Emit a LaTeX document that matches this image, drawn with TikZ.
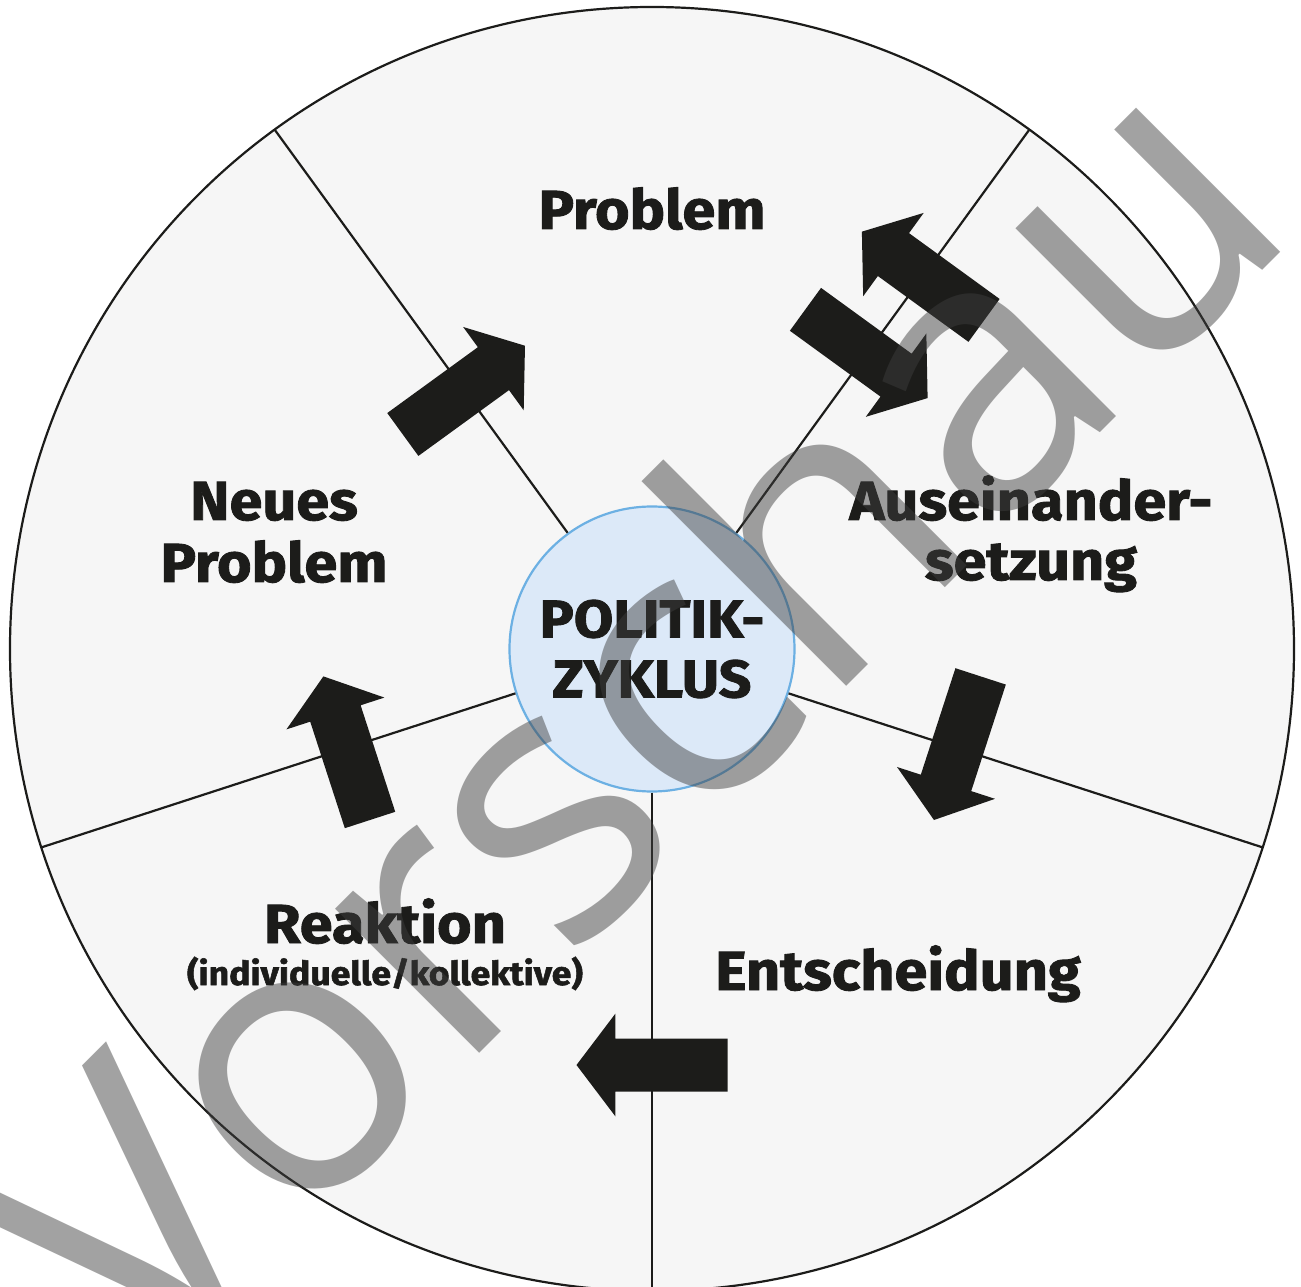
\documentclass[tikz,border=0pt]{standalone}
\usepackage{fontspec}
\setmainfont{Fira Sans}[BoldFeatures={FakeBold=1.6, FakeStretch=1.08}]
\newfontfamily\wmfont{Open Sans}
\definecolor{ink}{HTML}{1C1C1A}
\definecolor{bgray}{HTML}{F6F6F6}
\definecolor{hubfill}{HTML}{DCE9F8}
\definecolor{hubline}{HTML}{6CB0E3}
\definecolor{wmgray}{HTML}{3E3E3E}
\tikzset{
  blockarrow/.pic={
    \fill[ink] (-75.5,-26.5) -- (36.5,-26.5) -- (36.5,-51.5) -- (75.5,0)
      -- (36.5,51.5) -- (36.5,26.5) -- (-75.5,26.5) -- cycle;
  }
}
\begin{document}
\begin{tikzpicture}[x=1pt,y=1pt,
    lbl/.style={font=\bfseries\fontsize{55}{63}\selectfont, text=ink, anchor=base, inner sep=0pt},
    small/.style={font=\bfseries\fontsize{33}{40}\selectfont, text=ink, anchor=base, inner sep=0pt},
    divider/.style={draw=ink, line width=2.2pt}]
  \useasboundingbox (-652,-638) rectangle (649,649);
  \fill[white] (-652,-638) rectangle (649,649);
  % wheel
  \draw[divider, fill=bgray] (0,0) circle (642);
  \node[circle, minimum size=285, inner sep=0pt, draw=hubline, line width=2.2pt,
        fill=hubfill, align=center, text=ink,
        font=\bfseries\fontsize{53}{60}\selectfont] (hub) at (0,0) {POLITIK-\\ZYKLUS};
  \foreach \a in {-90,-18,54,126,198}
    \draw[divider] (hub.\a) -- (\a:642);
  % labels
  \node[lbl] (problem) at (0,420) {Problem};
  \node[lbl] (neu1) at (-378,129) {Neues};
  \node[lbl] (neu2) at (-378,67) {Problem};
  \node[lbl] (aus1) at (379,129) {Auseinander-};
  \node[lbl] (aus2) at (379,69) {setzung};
  \node[lbl] (entsch) at (246,-341) {Entscheidung};
  \node[lbl] (reakt) at (-267,-294) {Reaktion};
  \node[small] (reakt2) at (-267,-336) {(individuelle/kollektive)};
  % arrows
  \pic[rotate=36] at (126:320) {blockarrow};
  \pic[rotate=144] at (54:461) {blockarrow};
  \pic[rotate=-36] at (54:365) {blockarrow};
  \pic[rotate=-108] at (-18:321) {blockarrow};
  \pic[rotate=180] at (270:416) {blockarrow};
  \pic[rotate=108] at (198:321) {blockarrow};
  % watermark
  \node[rotate=45, anchor=base east, inner sep=0pt, text=wmgray, text opacity=0.48,
        font=\wmfont\fontsize{381}{381}\selectfont] (wm) at (652,420) {Vorschau};
\end{tikzpicture}
\end{document}
